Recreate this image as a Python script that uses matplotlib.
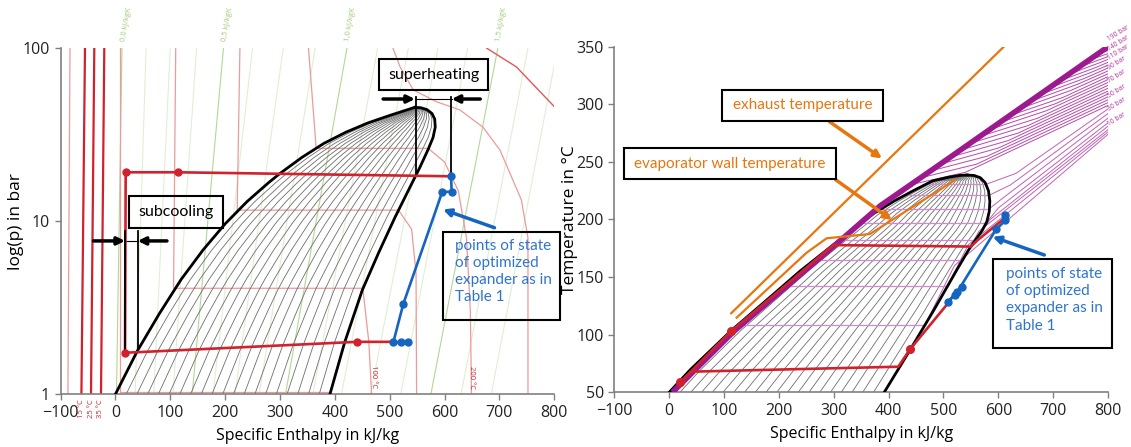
import numpy as np
import matplotlib.pyplot as plt
from matplotlib.patches import Rectangle

plt.rcParams['font.family'] = ['Open Sans', 'DejaVu Sans']

# ---------------- left: log(p)-h diagram ----------------
liq_h = [0, 40, 80, 120, 160, 200, 240, 280, 300, 340, 380, 420, 460, 500, 546]
liq_p = [1.0, 1.78, 2.92, 4.62, 6.84, 9.66, 13.0, 16.8, 18.9, 23.4, 28.2, 32.7, 37.0, 40.9, 45.6]
vap_h = [546, 557, 568, 577, 582, 583, 579, 570, 555, 535, 510, 480, 450, 418, 391]
vap_p = [45.6, 45.3, 44.2, 42.0, 39.0, 35.0, 30.5, 26.0, 20.5, 15.3, 10.6, 6.6, 4.0, 2.0, 1.0]

# isotherms (light red)
iso_50_h = [8, 8, 389]
iso_50_p = [100, 1.03, 1.03]
iso_100_h = [110, 106, 451, 462, 467]
iso_100_p = [100, 4.1, 4.1, 2.0, 1.0]
iso_150_h = [227, 222, 516, 540, 548, 549]
iso_150_p = [100, 11.6, 11.6, 9.0, 5.0, 1.0]
iso_200_h = [352, 366, 570, 600, 625, 640, 647, 649]
iso_200_p = [100, 26.4, 26.4, 22, 15, 8, 3, 1]
iso_250_h = [506, 519, 543, 586, 628, 670, 701, 740, 752, 752]
iso_250_p = [100, 78, 57.4, 49, 44, 35, 25.8, 13.3, 8, 1]
iso_300_h = [677, 731, 800]
iso_300_p = [100, 78, 46]
iso_low_top = [-82.7, -55.4, -38.4, -20.2]
iso_low_bot = [-86.5, -61.9, -44.4, -26.2]
iso_low_lab = ['', '15 °C', '25 °C', '35 °C']

# isentropes (green), h at 100 bar and at 1 bar
s_top = [12, 56, 100, 148, 197, 250, 306, 364, 422, 478, 534, 588, 642, 697, 752, 806]
s_bot = [2, 36, 70, 105, 140, 178, 218, 262, 310, 360, 412, 465, 520, 575, 630, 685]
s_labels = {0: '0,0 kJ/kgK', 4: '0,5 kJ/kgK', 8: '1,0 kJ/kgK', 13: '1,5 kJ/kgK'}

# cycle
cyc_top_h = [17.6, 18.8, 113.4, 611.5]
cyc_top_p = [1.74, 19.2, 19.2, 18.2]
cyc_bot_h = [17.6, 38, 440, 507]
cyc_bot_p = [1.74, 1.75, 2.01, 2.01]
cyc_dot_h = [17.6, 18.8, 113.4, 440]
cyc_dot_p = [1.74, 19.2, 19.2, 2.01]
exp_h = [611.7, 613, 595.8, 524.8, 506.6, 520.6, 532.8]
exp_p = [18.2, 14.8, 14.8, 3.33, 2.0, 2.0, 2.0]

# ---------------- right: T-h diagram ----------------
liqT_h = [0, 38, 114, 180, 238, 299, 340, 372, 410, 445, 480, 510, 530, 543]
liqT_T = [50, 69.4, 104, 131, 155, 178, 193, 205, 216, 225, 233.5, 236.8, 238.3, 238.6]
vapT_h = [543, 556, 567, 576, 582, 584.5, 583.5, 579, 570, 558, 545, 524, 482, 440, 392]
vapT_T = [238.6, 238.2, 236.3, 232, 225, 216, 207, 198, 190, 182, 173, 156, 121, 87.5, 50]

band_h = [6, 118, 303, 385, 500, 650, 800]
band_T = [50, 103, 178, 212, 250, 300, 350]

sub_tsat = [108.4, 142.3, 165, 182.5, 197, 209.5, 221, 230.5]
sub_knee_h = [520, 545, 565, 585, 600, 612, 622, 632]
sub_knee_T = [160, 178, 190, 200, 210, 220, 230, 240]
sub_end_T = [274, 276, 278, 281, 284, 288, 292, 296]

sup_start_h = [440, 458, 476, 494, 512, 530, 548, 566, 584, 602,
               620, 638, 656, 674, 692, 710, 728, 746, 764, 782]
sup_knee_h = [540, 560, 580, 600, 618, 636, 654, 672, 688, 704,
              718, 732, 745, 757, 768, 778, 786, 792, 796, 798]
sup_knee_T = [241, 248, 255, 262, 268.5, 275, 281.5, 288, 294.5, 300.5,
              306, 312, 317.5, 322.5, 327.5, 332, 336.3, 340, 343.4, 346.3]
sup_end_T = [299, 301.5, 304, 306.5, 309, 311.5, 314, 316.5, 319, 321.5,
             324, 326.5, 329, 331.5, 334, 336.5, 339, 341.5, 344, 346.5]

bar_labels = ['10 bar', '30 bar', '50 bar', '70 bar', '90 bar', '110 bar', '140 bar', '190 bar']
bar_label_T = [282, 295, 307, 320, 331, 340, 347, 355.8]

cycT_up_h = [20, 113, 238, 299, 550, 562, 611]
cycT_up_T = [58.7, 103.2, 153, 177.8, 176.5, 182, 201]
cycT_low_h = [508, 506, 439, 417.6, 41, 20]
cycT_low_T = [128.6, 126, 87.3, 72.2, 67.9, 58.7]
cycT_dot_h = [20, 113, 439]
cycT_dot_T = [58.7, 103.2, 87.3]
expT_h = [612, 613, 596, 525, 508, 521, 533]
expT_T = [204, 199.5, 191.5, 137, 128.6, 134.5, 141.7]

exhaust_h = [113, 610]
exhaust_T = [118.6, 350]
wall_h = [123, 250, 287, 366, 521]
wall_T = [114.8, 171, 183.7, 187.4, 234.3]

RED = '#d0212d'
BLUE = '#1565c0'
TBLUE = '#2f74cf'
ORANGE = '#e8760f'
PURPLE = '#9c1a8e'
LRED = '#ec9a9a'
GREEN_L = '#e0efd4'
GREEN_D = '#b3d796'
GRAY = '#808080'
BOXFONT = ['Lato', 'DejaVu Sans']

fig = plt.figure(figsize=(11.31, 4.47), dpi=100)
axL = fig.add_axes([0.0535, 0.1179, 0.4366, 0.7741])
axR = fig.add_axes([0.5432, 0.1224, 0.4365, 0.7731])

quality = np.linspace(0.05, 0.95, 19)

# ---- left plot ----
ax = axL
ax.set_yscale('log')
for i, (ht, hb) in enumerate(zip(s_top, s_bot)):
    c = GREEN_D if i in s_labels else GREEN_L
    ax.plot([hb, ht], [1, 100], color=c, lw=0.8, zorder=1)
    if i in s_labels:
        ax.text(ht + 2, 1.02, s_labels[i], transform=ax.get_xaxis_transform(),
                rotation=80, rotation_mode='anchor', ha='left', va='center',
                fontsize=5.5, color='#9ccb79', clip_on=False)

for hh, pp in [(iso_50_h, iso_50_p), (iso_100_h, iso_100_p), (iso_150_h, iso_150_p),
               (iso_200_h, iso_200_p), (iso_250_h, iso_250_p)]:
    ax.plot(hh, pp, color=LRED, lw=0.9, zorder=1)
ax.plot(iso_300_h, iso_300_p, color='#dc5a5a', lw=1.0, zorder=1)
for ht, hb, lab in zip(iso_low_top, iso_low_bot, iso_low_lab):
    ax.plot([hb, ht], [1, 100], color=RED if lab else LRED, lw=1.6 if lab else 0.9, zorder=1)
    if lab:
        ax.text(hb, -0.015, lab, transform=ax.get_xaxis_transform(), rotation=90,
                ha='center', va='top', fontsize=5.5, color=RED, clip_on=False)
ax.text(470, 1.08, '100 °C', rotation=270, ha='center', va='bottom', fontsize=5.5, color=RED)
ax.text(649, 1.08, '200 °C', rotation=270, ha='center', va='bottom', fontsize=5.5, color=RED)

lp = np.log(sorted(set(liq_p) | set(vap_p)))
hl = np.interp(lp, np.log(liq_p), liq_h)
hv = np.interp(lp, np.log(vap_p[::-1]), vap_h[::-1])
for x in quality:
    ax.plot(hl + x * (hv - hl), np.exp(lp), color='#6e6e6e', lw=0.6, zorder=2)
ax.plot(liq_h, liq_p, color='black', lw=2, zorder=3)
ax.plot(vap_h, vap_p, color='black', lw=2, zorder=3)

# annotation lines
ax.plot([548, 548], [52.5, 18.3], color='black', lw=1.3, zorder=4)
ax.plot([611.5, 611.5], [52.5, 18.2], color='black', lw=1.3, zorder=4)
ax.plot([546, 613], [50.9, 50.9], color='black', lw=0.8, zorder=4)
ax.plot([17.6, 17.6], [8.8, 1.76], color='black', lw=1.3, zorder=5)
ax.plot([40.7, 40.7], [8.8, 1.78], color='black', lw=1.3, zorder=4)
ax.plot([17.6, 40.7], [7.7, 7.7], color='black', lw=0.8, zorder=4)
arr = dict(arrowstyle='-|>', lw=2.5, color='black', mutation_scale=11, shrinkA=0, shrinkB=0)
ax.annotate('', xy=(546, 50.9), xytext=(488, 50.9), arrowprops=arr, zorder=6)
ax.annotate('', xy=(613, 50.9), xytext=(665, 50.9), arrowprops=arr, zorder=6)
ax.annotate('', xy=(17.6, 7.7), xytext=(-40, 7.7), arrowprops=arr, zorder=6)
ax.annotate('', xy=(40.7, 7.7), xytext=(94, 7.7), arrowprops=arr, zorder=6)

ax.plot(cyc_top_h, cyc_top_p, color=RED, lw=1.9, zorder=4)
ax.plot(cyc_bot_h, cyc_bot_p, color=RED, lw=1.9, zorder=4)
ax.plot(cyc_dot_h, cyc_dot_p, 'o', color=RED, ms=5, zorder=6)
ax.plot(exp_h, exp_p, '-o', color=BLUE, lw=1.9, ms=5, zorder=6)

ax.add_patch(Rectangle((481, 57.4), 199, 86.3 - 57.4, fill=False, lw=1.5,
                       ec='black', zorder=7, clip_on=False))
ax.text(580.5, 70.4, 'superheating', ha='center', va='center', fontsize=11.5,
        family=BOXFONT, zorder=8)
ax.add_patch(Rectangle((25.4, 9.2), 171, 14 - 9.2, fill=False, lw=1.5,
                       ec='black', zorder=7, clip_on=False))
ax.text(111, 11.35, 'subcooling', ha='center', va='center', fontsize=11.5,
        family=BOXFONT, zorder=8)
ax.add_patch(Rectangle((598, 2.69), 212, 8.71 - 2.69, fill=False, lw=1.5,
                       ec='black', zorder=7, clip_on=False))
ax.text(619, 7.95, 'points of state\nof optimized\nexpander as in\nTable 1', ha='left',
        va='top', fontsize=11, color=TBLUE, linespacing=1.3,
        family=BOXFONT, zorder=8, clip_on=False)
ax.annotate('', xy=(597, 11.7), xytext=(691, 9.18),
            arrowprops=dict(arrowstyle='-|>', lw=2.5, color=BLUE, mutation_scale=11,
                            shrinkA=0, shrinkB=0), zorder=6)

ax.set_xlim(-100, 800)
ax.set_ylim(1, 100)
ax.set_yticks([1, 10, 100])
ax.set_yticklabels(['1', '10', '100'])
ax.yaxis.set_minor_locator(plt.NullLocator())
ax.set_xticks(range(-100, 801, 100))
ax.set_xlabel('Specific Enthalpy in kJ/kg', fontsize=11.5, labelpad=5)
ax.set_ylabel('log(p) in bar', fontsize=12.5, labelpad=-1)

# ---- right plot ----
ax = axR
Tq = np.array(sorted(set(liqT_T) | set(vapT_T)))
hlT = np.interp(Tq, liqT_T, liqT_h)
hvT = np.interp(Tq, vapT_T[::-1], vapT_h[::-1])
for x in quality:
    ax.plot(hlT + x * (hvT - hlT), Tq, color='#6e6e6e', lw=0.6, zorder=2)

for ts, kh, kt, te in zip(sub_tsat, sub_knee_h, sub_knee_T, sub_end_T):
    h1 = np.interp(ts, liqT_T, liqT_h)
    h2 = np.interp(ts, vapT_T[::-1], vapT_h[::-1])
    ax.plot([h1, h2], [ts, ts], color='#d488d0', lw=0.9, zorder=2)
    ax.plot([h2, kh, 800], [ts, kt, te], color='#b446a8', lw=0.7, alpha=0.85, zorder=1)
for sh, kh, kt, te in zip(sup_start_h, sup_knee_h, sup_knee_T, sup_end_T):
    st = np.interp(sh, band_h, band_T)
    ax.plot([sh, kh, 800], [st, kt, te], color='#a82b9c', lw=0.7, alpha=0.85, zorder=1)
for lab, t in zip(bar_labels, bar_label_T):
    ax.text(801, t, lab, rotation=32, rotation_mode='anchor', ha='left', va='center',
            fontsize=4.8, color='#b0309e', clip_on=False)

ax.plot(liqT_h, liqT_T, color='black', lw=2, zorder=3)
ax.plot(vapT_h, vapT_T, color='black', lw=2, zorder=3)
ax.plot(band_h, band_T, color=PURPLE, lw=4, solid_capstyle='butt', zorder=3.5)

ax.plot(exhaust_h, exhaust_T, color=ORANGE, lw=1.6, zorder=4)
ax.plot(wall_h, wall_T, color=ORANGE, lw=1.6, zorder=4)

ax.plot(cycT_up_h, cycT_up_T, color=RED, lw=1.9, zorder=4)
ax.plot(cycT_low_h, cycT_low_T, color=RED, lw=1.9, zorder=4)
ax.plot(cycT_dot_h, cycT_dot_T, 'o', color=RED, ms=5.5, zorder=6)
ax.plot(expT_h, expT_T, '-o', color=BLUE, lw=1.9, ms=5, zorder=6)

ax.add_patch(Rectangle((95.4, 285.8), 294.8, 26.6, fill=False, lw=1.5, ec='black', zorder=7))
ax.text(242.8, 299, 'exhaust temperature', ha='center', va='center', fontsize=11,
        color=ORANGE, family=BOXFONT, zorder=8)
ax.add_patch(Rectangle((-82.3, 234.9), 385.8, 26.9, fill=False, lw=1.5, ec='black', zorder=7))
ax.text(110.6, 248.3, 'evaporator wall temperature', ha='center', va='center', fontsize=11,
        color=ORANGE, family=BOXFONT, zorder=8)
oarr = dict(arrowstyle='-|>', lw=2.5, color=ORANGE, mutation_scale=11, shrinkA=0, shrinkB=0)
ax.annotate('', xy=(388, 253), xytext=(292, 285), arrowprops=oarr, zorder=6)
ax.annotate('', xy=(406, 199.6), xytext=(303.5, 234.5), arrowprops=oarr, zorder=6)

ax.add_patch(Rectangle((591, 88.7), 215.8, 76.8, fill=False, lw=1.5, ec='black',
                       zorder=7, clip_on=False))
ax.text(614, 159, 'points of state\nof optimized\nexpander as in\nTable 1', ha='left',
        va='top', fontsize=11, color=TBLUE, linespacing=1.3,
        family=BOXFONT, zorder=8)
ax.annotate('', xy=(589.5, 185), xytext=(683.8, 169.2),
            arrowprops=dict(arrowstyle='-|>', lw=2.5, color=BLUE, mutation_scale=11,
                            shrinkA=0, shrinkB=0), zorder=6)

ax.set_xlim(-100, 800)
ax.set_ylim(50, 350)
ax.set_xticks(range(-100, 801, 100))
ax.set_yticks(range(50, 351, 50))
ax.set_xlabel('Specific Enthalpy in kJ/kg', fontsize=11.5, labelpad=5)
ax.set_ylabel('Temperature in °C', fontsize=12.5, labelpad=-1)

for a in (axL, axR):
    for s in ('top', 'right'):
        a.spines[s].set_visible(False)
    for s in ('left', 'bottom'):
        a.spines[s].set_color(GRAY)
        a.spines[s].set_linewidth(1.2)
    a.tick_params(colors=GRAY, labelcolor='#222222', labelsize=11.5, length=4, width=1)

fig.savefig('out.png', dpi=100)
